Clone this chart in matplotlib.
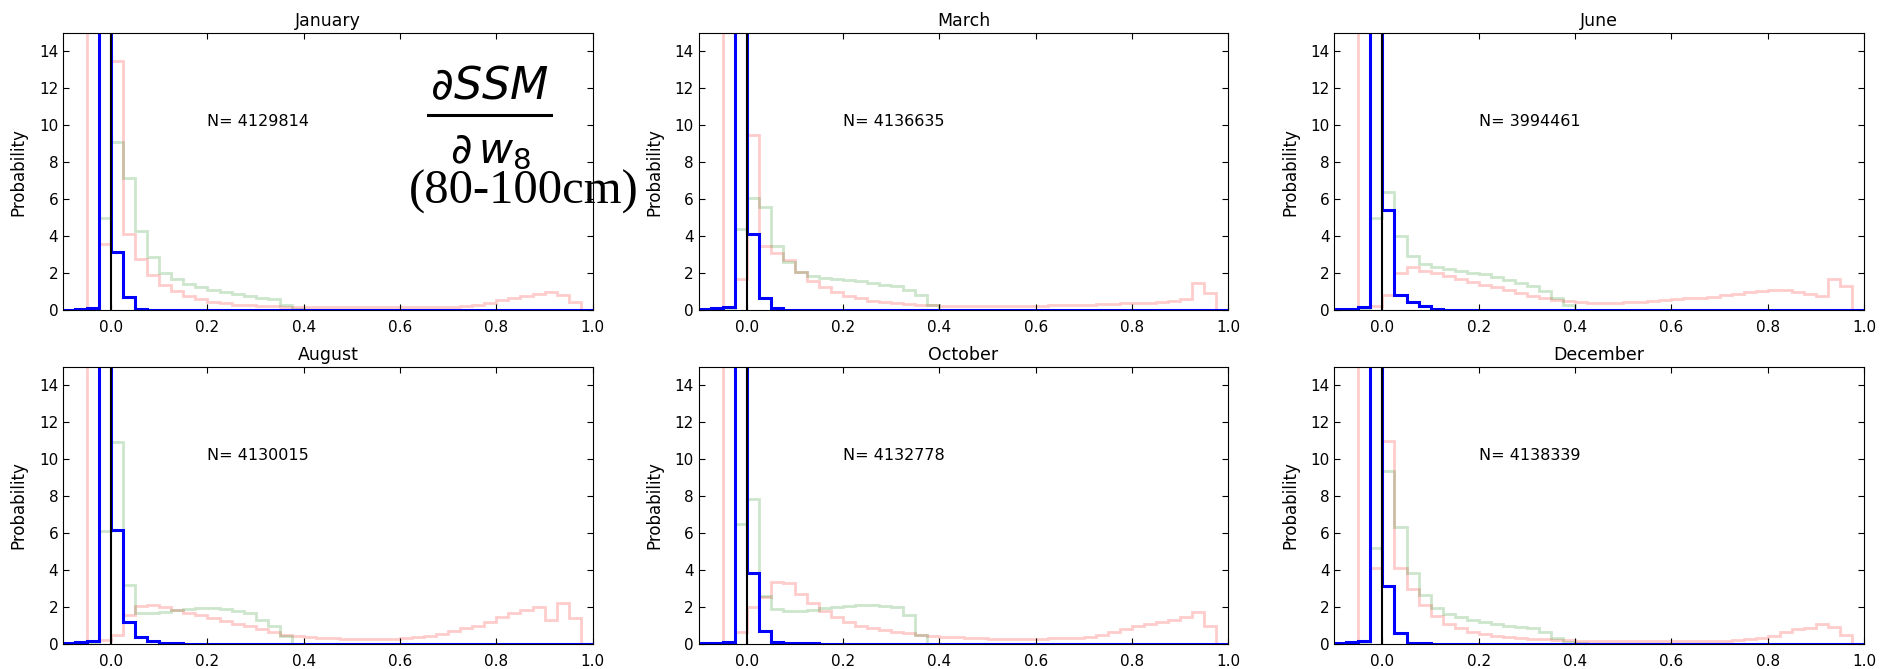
import numpy as np
import matplotlib
matplotlib.use('Agg')
import matplotlib.pyplot as plt
from matplotlib.lines import Line2D

plt.rcParams['mathtext.fontset'] = 'dejavusans'

months = ['January', 'March', 'June', 'August', 'October', 'December']
counts = [4129814, 4136635, 3994461, 4130015, 4132778, 4138339]

# histogram bins, width 0.025 from -0.1 to 1.0 (44 bins)
edges = np.linspace(-0.1, 1.0, 45)

# tails shared by the low series (~0 far from zero)
blue_tail = [0.02, 0.02, 0.02, 0.02, 0.01, 0.01, 0.01, 0.01, 0.01, 0.01, 0.01,
             0.01, 0.01, 0.01, 0.01, 0.01, 0.01, 0.01, 0.01, 0.01, 0.01, 0.01,
             0.01, 0.01, 0.01, 0.01, 0.01, 0.01, 0.01, 0.01, 0.01, 0.01, 0.01]
green_tail = [0.02, 0.02, 0.02, 0.02, 0.02, 0.02, 0.02, 0.02, 0.02, 0.02, 0.02,
              0.02, 0.02, 0.02, 0.02, 0.02, 0.02, 0.02, 0.02, 0.02, 0.02, 0.0]

# ---- January
jan_blue = [0.05, 0.08, 0.12, 40, 3.15, 0.75, 0.10, 0.05, 0.03, 0.03, 0.02] + blue_tail
jan_red = [0, 0, 40, 3.6, 13.5, 4.15, 2.8, 1.9, 1.4, 1.05, 0.8,
           0.6, 0.45, 0.38, 0.32, 0.28, 0.25, 0.22, 0.2, 0.19, 0.18, 0.18,
           0.18, 0.18, 0.17, 0.17, 0.17, 0.17, 0.17, 0.18, 0.18, 0.19, 0.2,
           0.22, 0.3, 0.4, 0.55, 0.7, 0.8, 0.9, 1.0, 0.85, 0.45, 0]
jan_green = [0, 0, 0, 5.0, 9.1, 7.15, 4.3, 2.9, 2.05, 1.7, 1.45,
             1.25, 1.1, 1.0, 0.9, 0.8, 0.7, 0.6, 0.3, 0.08, 0.03, 0.02] + green_tail

# ---- March
mar_blue = [0.10, 0.12, 0.20, 40, 4.15, 0.70, 0.12, 0.05, 0.03, 0.03, 0.02] + blue_tail
mar_red = [0, 0, 40, 1.7, 9.5, 3.5, 3.1, 2.75, 2.1, 1.6, 1.25,
           1.0, 0.8, 0.65, 0.52, 0.45, 0.4, 0.35, 0.3, 0.28, 0.26, 0.25,
           0.25, 0.25, 0.25, 0.25, 0.25, 0.25, 0.26, 0.27, 0.28, 0.3, 0.32,
           0.34, 0.36, 0.38, 0.4, 0.43, 0.46, 0.5, 0.6, 1.5, 0.95, 0]
mar_green = [0, 0, 0, 4.4, 6.1, 5.6, 3.5, 2.6, 2.1, 1.85, 1.75,
             1.7, 1.65, 1.58, 1.5, 1.4, 1.3, 1.1, 0.85, 0.3, 0.05, 0.02] + green_tail

# ---- June
jun_blue = [0.08, 0.10, 0.20, 40, 5.45, 0.85, 0.45, 0.25, 0.08, 0.03, 0.02] + blue_tail
jun_red = [0, 0, 40, 0.25, 0.85, 2.05, 2.35, 2.15, 2.0, 1.85, 1.7,
           1.55, 1.4, 1.25, 1.1, 0.95, 0.8, 0.65, 0.55, 0.5, 0.45, 0.42,
           0.42, 0.43, 0.45, 0.48, 0.52, 0.56, 0.6, 0.65, 0.7, 0.75, 0.82,
           0.9, 0.98, 1.05, 1.12, 1.1, 1.0, 0.9, 0.78, 1.7, 1.35, 0]
jun_green = [0, 0, 0, 5.0, 6.4, 4.05, 2.95, 2.5, 2.35, 2.25, 2.15,
             2.05, 1.95, 1.8, 1.65, 1.5, 1.3, 1.05, 0.7, 0.3, 0.05, 0.02] + green_tail

# ---- August
aug_blue = [0.08, 0.10, 0.15, 40, 6.15, 1.2, 0.4, 0.15, 0.05, 0.03, 0.02] + blue_tail
aug_red = [0, 0, 40, 0.2, 0.5, 1.55, 2.05, 2.1, 2.0, 1.85, 1.7,
           1.55, 1.4, 1.25, 1.1, 0.95, 0.8, 0.65, 0.5, 0.42, 0.38, 0.34,
           0.31, 0.29, 0.28, 0.27, 0.27, 0.28, 0.3, 0.36, 0.45, 0.56, 0.7,
           0.85, 1.0, 1.2, 1.45, 1.65, 1.85, 2.0, 1.3, 2.2, 1.4, 0]
aug_green = [0, 0, 0, 6.1, 10.9, 3.2, 1.7, 1.7, 1.75, 1.85, 1.9,
             1.95, 1.95, 1.9, 1.8, 1.65, 1.3, 0.95, 0.45, 0.02, 0.02, 0.02] + green_tail

# ---- October
oct_blue = [0.05, 0.08, 0.10, 40, 3.85, 0.7, 0.12, 0.05, 0.03, 0.03, 0.02] + blue_tail
oct_red = [0, 0, 40, 0.65, 2.0, 2.55, 3.35, 3.3, 2.7, 2.2, 1.8,
           1.45, 1.2, 1.0, 0.85, 0.75, 0.65, 0.57, 0.5, 0.45, 0.4, 0.36,
           0.33, 0.31, 0.29, 0.28, 0.28, 0.28, 0.29, 0.3, 0.32, 0.35, 0.4,
           0.5, 0.65, 0.8, 0.95, 1.1, 1.2, 1.3, 1.45, 1.75, 1.0, 0]
oct_green = [0, 0, 0, 6.5, 7.85, 2.6, 1.9, 1.8, 1.8, 1.85, 1.95,
             2.0, 2.05, 2.1, 2.1, 2.05, 2.0, 1.55, 0.5, 0.02, 0.02, 0.02] + green_tail

# ---- December
dec_blue = [0.08, 0.10, 0.15, 40, 3.12, 0.6, 0.05, 0.03, 0.02, 0.02, 0.02] + blue_tail
dec_red = [0, 0, 40, 4.1, 10.95, 4.1, 2.95, 2.1, 1.5, 1.1, 0.85,
           0.65, 0.52, 0.43, 0.36, 0.32, 0.28, 0.25, 0.22, 0.2, 0.18, 0.17,
           0.16, 0.16, 0.15, 0.15, 0.15, 0.15, 0.15, 0.15, 0.15, 0.16, 0.17,
           0.2, 0.25, 0.3, 0.45, 0.65, 0.8, 0.85, 1.1, 0.9, 0.5, 0]
dec_green = [0, 0, 0, 5.2, 9.35, 6.3, 3.85, 2.65, 1.95, 1.6, 1.45,
             1.3, 1.2, 1.1, 1.0, 0.92, 0.85, 0.65, 0.3, 0.1, 0.03, 0.02] + green_tail

blues = [jan_blue, mar_blue, jun_blue, aug_blue, oct_blue, dec_blue]
reds = [jan_red, mar_red, jun_red, aug_red, oct_red, dec_red]
greens = [jan_green, mar_green, jun_green, aug_green, oct_green, dec_green]

W, H = 1888, 669
fig, axes = plt.subplots(2, 3, figsize=(W / 100, H / 100), dpi=100)
fig.subplots_adjust(left=63 / W, right=1864 / W, top=1 - 33 / H,
                    bottom=1 - 644 / H, wspace=0.2, hspace=0.202)

for ax, m, n, b, r, g in zip(axes.flat, months, counts, blues, reds, greens):
    ax.stairs(r, edges, color='r', alpha=0.2, lw=2)
    ax.stairs(g, edges, color='g', alpha=0.2, lw=2)
    ax.stairs(b, edges, color='b', lw=2.2)
    ax.axvline(0, color='k', lw=1.5)
    ax.set_xlim(-0.1, 1.0)
    ax.set_ylim(0, 15)
    ax.set_xticks([0.0, 0.2, 0.4, 0.6, 0.8, 1.0])
    ax.set_yticks(range(0, 15, 2))
    ax.xaxis.set_major_formatter('{x:.1f}')
    ax.tick_params(direction='in', top=True, right=True, length=4, labelsize=11)
    ax.tick_params(axis='x', pad=7)
    ax.set_title(m, fontsize=12.5, pad=5)
    ax.set_ylabel('Probability', fontsize=12, labelpad=8)
    ax.text(0.2, 10.2, 'N= %d' % n, fontsize=11.5, va='center')

# derivative label on the January panel
fig.text(489 / W, 1 - 87 / H, r'$\partial SSM$', fontsize=32, ha='center', va='center')
fig.add_artist(Line2D([428 / W, 551 / W], [1 - 115 / H, 1 - 115 / H],
                      color='k', lw=2.2, transform=fig.transFigure))
fig.text(490 / W, 1 - 151 / H, r'$\partial\, w_8$', fontsize=30, ha='center', va='center')
fig.text(524 / W, 1 - 192 / H, '(80-100cm)', fontsize=35, family='Liberation Serif',
         ha='center', va='center')

fig.savefig('out.png', dpi=100)
